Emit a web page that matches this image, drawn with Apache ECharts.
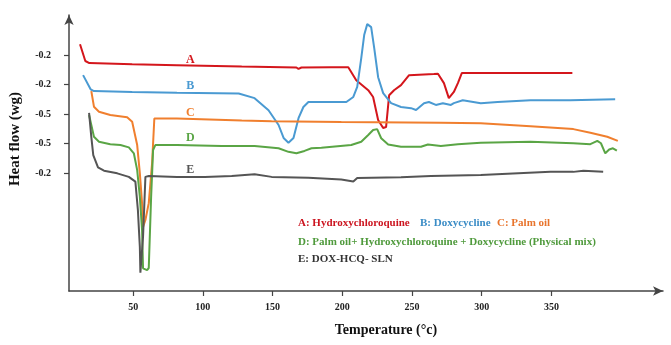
<!DOCTYPE html>
<html>
<head>
<meta charset="utf-8">
<script src="https://cdn.jsdelivr.net/npm/echarts@6/dist/echarts.min.js"></script>
<style>
  html, body { margin: 0; padding: 0; background: #fff; }
  #chart { width: 671px; height: 345px; }
</style>
</head>
<body>
<div id="chart"></div>
<script>
// DSC traces, [temperature, offset]
const curveA = [[11.9,8.37],[15.7,7.80],[18.6,7.73],[49.3,7.69],[81.4,7.66],[127.9,7.61],[167.1,7.58],[168.6,7.53],[170.7,7.58],[192,7.59],[204.3,7.59],[210,7.15],[218.6,6.81],[222.1,6.58],[225.7,5.80],[229.3,5.53],[231.4,5.56],[233.6,6.64],[237.1,6.81],[242.1,6.98],[247.9,7.32],[265.7,7.36],[268.6,7.37],[272.9,7.05],[276.4,6.54],[280,6.75],[282.9,7.05],[285.7,7.39],[365,7.39]];
const curveB = [[14.1,7.32],[19.5,6.84],[21.9,6.78],[49.3,6.75],[81.4,6.72],[125.7,6.70],[137.1,6.54],[147.1,6.13],[154.3,5.63],[157.9,5.19],[161.4,5.03],[165,5.19],[168.6,5.86],[172.1,6.24],[175.7,6.41],[202.9,6.41],[207.9,6.58],[210.7,6.92],[213.6,7.90],[215.7,8.68],[217.9,9.05],[220.7,8.95],[222.9,8.24],[225.7,7.25],[229.3,6.71],[235,6.37],[242.1,6.24],[249.3,6.20],[252.9,6.14],[258.6,6.37],[262.1,6.41],[267.1,6.31],[272.1,6.37],[277.9,6.31],[280,6.37],[286.4,6.47],[299.3,6.37],[311.4,6.41],[335,6.47],[363.6,6.47],[395.7,6.50]];
const curveC = [[20,6.78],[21.9,6.25],[25.5,6.08],[33.6,5.97],[45.7,5.89],[49.3,5.74],[52.9,4.95],[54.8,4.00],[56.4,2.98],[57.1,2.17],[58.8,2.41],[61.2,2.98],[63.6,4.34],[65.2,5.85],[81.4,5.85],[127.9,5.78],[149.3,5.76],[199.3,5.73],[270.7,5.71],[299.3,5.69],[335,5.59],[365.7,5.49],[377.9,5.37],[390,5.23],[397.6,5.09]];
const curveD = [[18.4,5.97],[20,5.63],[21.9,5.23],[25.5,5.06],[33.6,4.98],[40.9,4.95],[46.9,4.87],[50.5,4.67],[52.9,4.10],[54.8,3.20],[56.4,2.07],[57.1,0.77],[60,0.71],[61.2,0.78],[62.9,3.20],[64.3,4.78],[65.9,4.95],[81.4,4.95],[113.6,4.92],[137.1,4.92],[154.3,4.84],[161.4,4.72],[167.1,4.67],[172.9,4.75],[177.9,4.84],[185,4.86],[206.4,4.95],[213.6,5.06],[218.6,5.29],[222.1,5.46],[225,5.49],[227.9,5.18],[232.9,4.97],[242.1,4.89],[256.4,4.89],[261.4,4.97],[270.7,4.92],[282.9,4.98],[299.3,5.03],[335,5.06],[365.7,5.01],[377.9,4.98],[382.9,5.09],[385.5,5.01],[388.6,4.67],[391.4,4.80],[394.1,4.84],[396.9,4.76]];
const curveE = [[18.4,6.04],[20,5.23],[21.4,4.61],[24.8,4.19],[29.1,4.08],[38.6,3.99],[46.9,3.87],[51.6,3.71],[53.4,2.75],[54.8,1.50],[55.2,0.62],[57.1,1.84],[58.8,3.87],[61.2,3.90],[81.4,3.87],[101.4,3.87],[120.7,3.90],[137.1,3.96],[149.3,3.87],[175.7,3.84],[199.3,3.78],[207.9,3.71],[210.7,3.83],[242.1,3.86],[263.6,3.90],[299.3,3.93],[349.3,4.04],[365.7,4.04],[372.9,4.08],[387.1,4.04]];

const xTicks = [50, 100, 150, 200, 250, 300, 350];
const yTickValues = [4, 5, 6, 7, 8];
const yTickLabels = ["-0.2", "-0.5", "-0.5", "-0.2", "-0.2"];

const names = ["A", "B", "C", "D", "E"];
const curves = [curveA, curveB, curveC, curveD, curveE];
const colors = ["#d4161c", "#4a9ad2", "#f07f2e", "#5aa545", "#555555"];
const letterX = 91;
const letterY = [7.83, 6.95, 6.03, 5.19, 4.10];

const serif = "'Liberation Serif', 'DejaVu Serif', serif";

const chart = echarts.init(document.getElementById("chart"));

chart.setOption({
  animation: false,
  backgroundColor: "#fff",
  grid: { left: 67, right: 8, top: 15, bottom: 54 },
  xAxis: {
    type: "value",
    min: 4,
    max: 430,
    name: "Temperature (°c)",
    nameLocation: "middle",
    nameGap: 32,
    nameTextStyle: { fontFamily: serif, fontWeight: "bold", fontSize: 14, color: "#111", padding: [0, 0, 0, 40] },
    axisLine: { lineStyle: { color: "#444", width: 1.5 }, symbol: ["none", "arrow"], symbolSize: [7, 10] },
    axisTick: { show: true, customValues: xTicks, length: 5, lineStyle: { color: "#444", width: 1.2 } },
    axisLabel: { customValues: xTicks, fontFamily: serif, fontWeight: "bold", fontSize: 10, color: "#222", margin: 11 },
    splitLine: { show: false }
  },
  yAxis: {
    type: "value",
    min: 0,
    max: 9.36,
    name: "Heat flow (wg)",
    nameLocation: "middle",
    nameGap: 46,
    nameRotate: 90,
    nameTextStyle: { fontFamily: serif, fontWeight: "bold", fontSize: 15, color: "#111", padding: [0, 0, 0, 28] },
    axisLine: { lineStyle: { color: "#444", width: 1.5 }, symbol: ["none", "arrow"], symbolSize: [7, 10] },
    axisTick: { show: true, customValues: yTickValues, length: 5, lineStyle: { color: "#444", width: 1.2 } },
    axisLabel: {
      customValues: yTickValues,
      fontFamily: serif, fontWeight: "bold", fontSize: 10, color: "#222", margin: 18,
      formatter: v => yTickLabels[yTickValues.indexOf(Math.round(v))] || ""
    },
    splitLine: { show: false }
  },
  series: curves.map((c, i) => ({
    name: names[i],
    type: "line",
    data: c,
    symbol: "none",
    smooth: false,
    lineStyle: { color: colors[i], width: 2 },
    markPoint: {
      symbol: "circle",
      symbolSize: 0,
      data: [{ coord: [letterX, letterY[i]] }],
      label: {
        show: true,
        formatter: names[i],
        position: "inside",
        fontFamily: serif, fontWeight: "bold", fontSize: 12, color: colors[i]
      }
    }
  })),
  graphic: [
    { type: "text", left: 298, top: 218, style: { text: "A: Hydroxychloroquine", fill: "#cc1520", font: "bold 11px " + serif } },
    { type: "text", left: 420, top: 218, style: { text: "B: Doxycycline", fill: "#3a8cc6", font: "bold 11px " + serif } },
    { type: "text", left: 497, top: 218, style: { text: "C: Palm oil", fill: "#e8742c", font: "bold 11px " + serif } },
    { type: "text", left: 298, top: 237, style: { text: "D: Palm oil+ Hydroxychloroquine + Doxycycline (Physical mix)", fill: "#4f9a3c", font: "bold 11px " + serif } },
    { type: "text", left: 298, top: 254, style: { text: "E: DOX-HCQ- SLN", fill: "#333", font: "bold 11px " + serif } }
  ]
});

window.addEventListener("resize", chart.resize);
</script>
</body>
</html>
